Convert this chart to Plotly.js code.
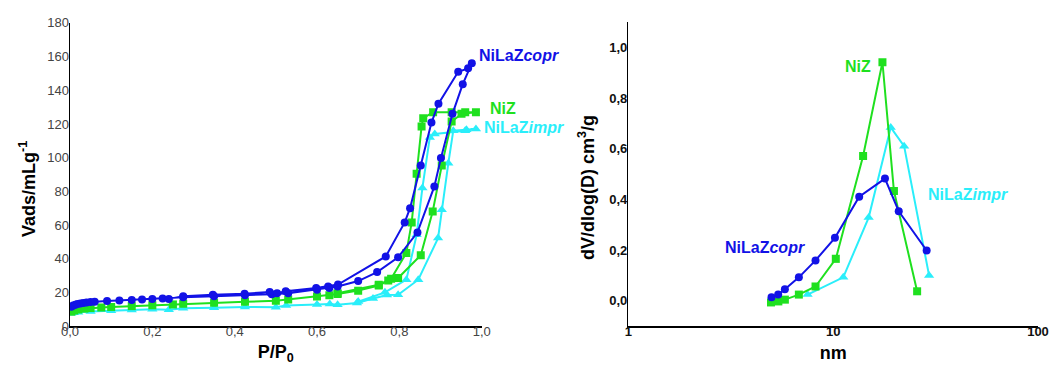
<!DOCTYPE html>
<html>
<head>
<meta charset="utf-8">
<script src="https://cdn.plot.ly/plotly-3.0.1.min.js"></script>
<style>html,body{margin:0;padding:0;background:#fff;}#chart{width:1049px;height:365px;}</style>
</head>
<body>
<div id="chart"></div>
<script>
// ---- Isotherms (left): adsorption then desorption, P/P0 vs Vads ----
const coprAdsP = [0.003,0.008,0.013,0.018,0.025,0.032,0.04,0.05,0.06,0.09,0.12,0.15,0.175,0.2,0.225,0.275,0.35,0.425,0.49,0.53,0.6,0.63,0.65,0.7,0.746,0.797,0.844,0.885,0.901,0.929,0.954,0.976];
const coprAdsV = [11.5,12.2,12.6,13,13.3,13.6,13.9,14.2,14.4,14.8,15.2,15.5,15.8,16.1,16.4,17,17.6,18.2,18.9,19.5,21.6,22.6,23.5,26.7,32,40.8,55.6,82.9,99.7,126,143.6,156];
const coprDesP = [0.967,0.943,0.895,0.878,0.852,0.826,0.813,0.767,0.651,0.627,0.598,0.524,0.503,0.485,0.424,0.347,0.275,0.24];
const coprDesV = [153,151,132,120.8,95.3,70,61.5,41.3,24.6,23.5,22.6,20.6,19.5,20.2,19.2,18.6,17.6,16];

const nizAdsP = [0.003,0.01,0.02,0.035,0.05,0.076,0.1,0.15,0.2,0.25,0.275,0.35,0.425,0.5,0.53,0.6,0.63,0.65,0.7,0.75,0.773,0.797,0.852,0.881,0.903,0.927,0.951,0.986];
const nizAdsV = [8.5,9.2,9.8,10.3,10.7,11,11.3,11.8,12.3,12.8,13.2,13.8,14.4,15,15.8,17.5,18.2,19,21,24,27,28.5,42,68,95.3,121.4,126,127];
const nizDesP = [0.96,0.927,0.882,0.858,0.854,0.842,0.83,0.817,0.78,0.75,0.65];
const nizDesV = [127,127,127,123.4,118.5,90.4,61.5,43.4,28,24.5,19.5];

const imprAdsP = [0.003,0.01,0.02,0.05,0.1,0.15,0.2,0.24,0.275,0.35,0.425,0.5,0.525,0.6,0.631,0.65,0.697,0.736,0.77,0.797,0.846,0.894,0.903,0.919,0.931,0.963,0.986];
const imprAdsV = [7.5,7.8,8.2,8.6,9.1,9.5,9.9,9.6,10.5,10.8,11.3,11.2,12.2,12.8,13,12.6,13.7,16.3,18.4,18.6,27.5,52.2,69,96.7,116,116.5,117];
const imprDesP = [0.96,0.886,0.874,0.856,0.842,0.817,0.765,0.7];
const imprDesV = [116,114,112,82,54.2,27.5,20,14.5];

// ---- Pore size distribution (right): D (nm) vs dV/dlog(D) ----
const coprD = [5.0,5.39,5.81,6.8,8.2,10.2,13.4,17.9,20.9,28.6];
const coprPSD = [0.013,0.024,0.045,0.092,0.159,0.248,0.41,0.482,0.353,0.198];
const nizD = [4.97,5.4,5.81,6.8,8.2,10.3,14.0,17.4,19.8,25.7];
const nizPSD = [-0.007,-0.003,0.004,0.024,0.056,0.165,0.571,0.941,0.433,0.037];
const imprD = [7.5,11.2,14.9,19.1,22.2,29.4];
const imprPSD = [0.024,0.092,0.328,0.684,0.61,0.099];

const labels = ['NiLaZ<i>copr</i>','NiZ','NiLaZ<i>impr</i>'];
const cBlue = '#1212e6', cGreen = '#1fe01f', cCyan = '#2aeefa';

const traces = [
  {x: imprAdsP.concat(imprDesP), y: imprAdsV.concat(imprDesV), xaxis:'x', yaxis:'y', mode:'lines+markers',
   line:{color:cCyan,width:2}, marker:{symbol:'triangle-up',size:9,color:cCyan}},
  {x: nizAdsP.concat(nizDesP), y: nizAdsV.concat(nizDesV), xaxis:'x', yaxis:'y', mode:'lines+markers',
   line:{color:cGreen,width:2}, marker:{symbol:'square',size:8,color:cGreen}},
  {x: coprAdsP.concat(coprDesP), y: coprAdsV.concat(coprDesV), xaxis:'x', yaxis:'y', mode:'lines+markers',
   line:{color:cBlue,width:2}, marker:{symbol:'circle',size:8,color:cBlue}},
  {x: imprD, y: imprPSD, xaxis:'x2', yaxis:'y2', mode:'lines+markers',
   line:{color:cCyan,width:2}, marker:{symbol:'triangle-up',size:9,color:cCyan}},
  {x: nizD, y: nizPSD, xaxis:'x2', yaxis:'y2', mode:'lines+markers',
   line:{color:cGreen,width:2}, marker:{symbol:'square',size:8,color:cGreen}},
  {x: coprD, y: coprPSD, xaxis:'x2', yaxis:'y2', mode:'lines+markers',
   line:{color:cBlue,width:2}, marker:{symbol:'circle',size:8,color:cBlue}}
];

const F = 'Liberation Sans, Arial, sans-serif';
const lab = (x,y,xr,yr,t,c,xa) => ({x:x,y:y,xref:xr,yref:yr,text:'<b>'+t+'</b>',showarrow:false,
  xanchor:xa,yanchor:'middle',font:{family:F,size:16,color:c}});

const plotW = 1049-70-11, plotH = 365-22-39;

const layout = {
  width:1049, height:365, showlegend:false, separators:', ',
  paper_bgcolor:'#fff', plot_bgcolor:'#fff',
  margin:{l:70,r:11,t:22,b:39},
  font:{family:F},
  xaxis:{domain:[0,0.4253], range:[0,1], dtick:0.2, tickformat:'.1f', showgrid:false, zeroline:false,
    showline:true, linecolor:'#000', linewidth:1.5, ticks:'', ticklabelstandoff:-7, tickfont:{size:13,color:'#444'},
    title:{text:'<b>P/P<sub>0</sub></b>', font:{size:18,color:'#000'}, standoff:8}},
  yaxis:{domain:[0,0.997], range:[0,180], dtick:20, showgrid:false, zeroline:false,
    showline:true, linecolor:'#000', linewidth:1.5, ticks:'', ticklabelstandoff:-3, tickfont:{size:13,color:'#444'}},
  xaxis2:{domain:[0.5768,1], type:'log', range:[0,2], tickvals:[1,10,100], ticktext:['1','10','100'],
    showgrid:false, zeroline:false, showline:true, linecolor:'#000', linewidth:1.5, ticks:'', ticklabelstandoff:-7,
    tickfont:{size:13,color:'#111',weight:'bold'}, anchor:'y2',
    title:{text:'<b>nm</b>', font:{size:18,color:'#000'}, standoff:8}},
  yaxis2:{domain:[0,1], range:[-0.1,1.1], tickvals:[0,0.2,0.4,0.6,0.8,1.0], tickformat:'.1f',
    showgrid:false, zeroline:false, showline:true, linecolor:'#000', linewidth:1.5, ticks:'', ticklabelstandoff:-3,
    tickfont:{size:13,color:'#111',weight:'bold'}, anchor:'x2'},
  annotations:[
    lab(0.989,160.4,'x','y',labels[0],cBlue,'left'),
    lab(0.4318,0.717,'paper','paper',labels[1],cGreen,'left'),
    lab(1.0,117.6,'x','y',labels[2],cCyan,'left'),
    lab(1.122,0.924,'x2','y2',labels[1],cGreen,'center'),
    lab(1.659,0.42,'x2','y2',labels[2],cCyan,'center'),
    lab(0.667,0.211,'x2','y2',labels[0],cBlue,'center'),
    {x:(27-70)/plotW, y:(326-189)/plotH, xref:'paper', yref:'paper', text:'<b>Vads/mLg<sup>-1</sup></b>',
     textangle:-90, showarrow:false, xanchor:'center', yanchor:'middle', font:{family:F,size:18,color:'#000'}},
    {x:(586-70)/plotW, y:(326-188)/plotH, xref:'paper', yref:'paper', text:'<b>dV/dlog(D) cm<sup>3</sup>/g</b>',
     textangle:-90, showarrow:false, xanchor:'center', yanchor:'middle', font:{family:F,size:18,color:'#000'}}
  ]
};

Plotly.newPlot('chart', traces, layout, {displayModeBar:false, staticPlot:true});
</script>
</body>
</html>
